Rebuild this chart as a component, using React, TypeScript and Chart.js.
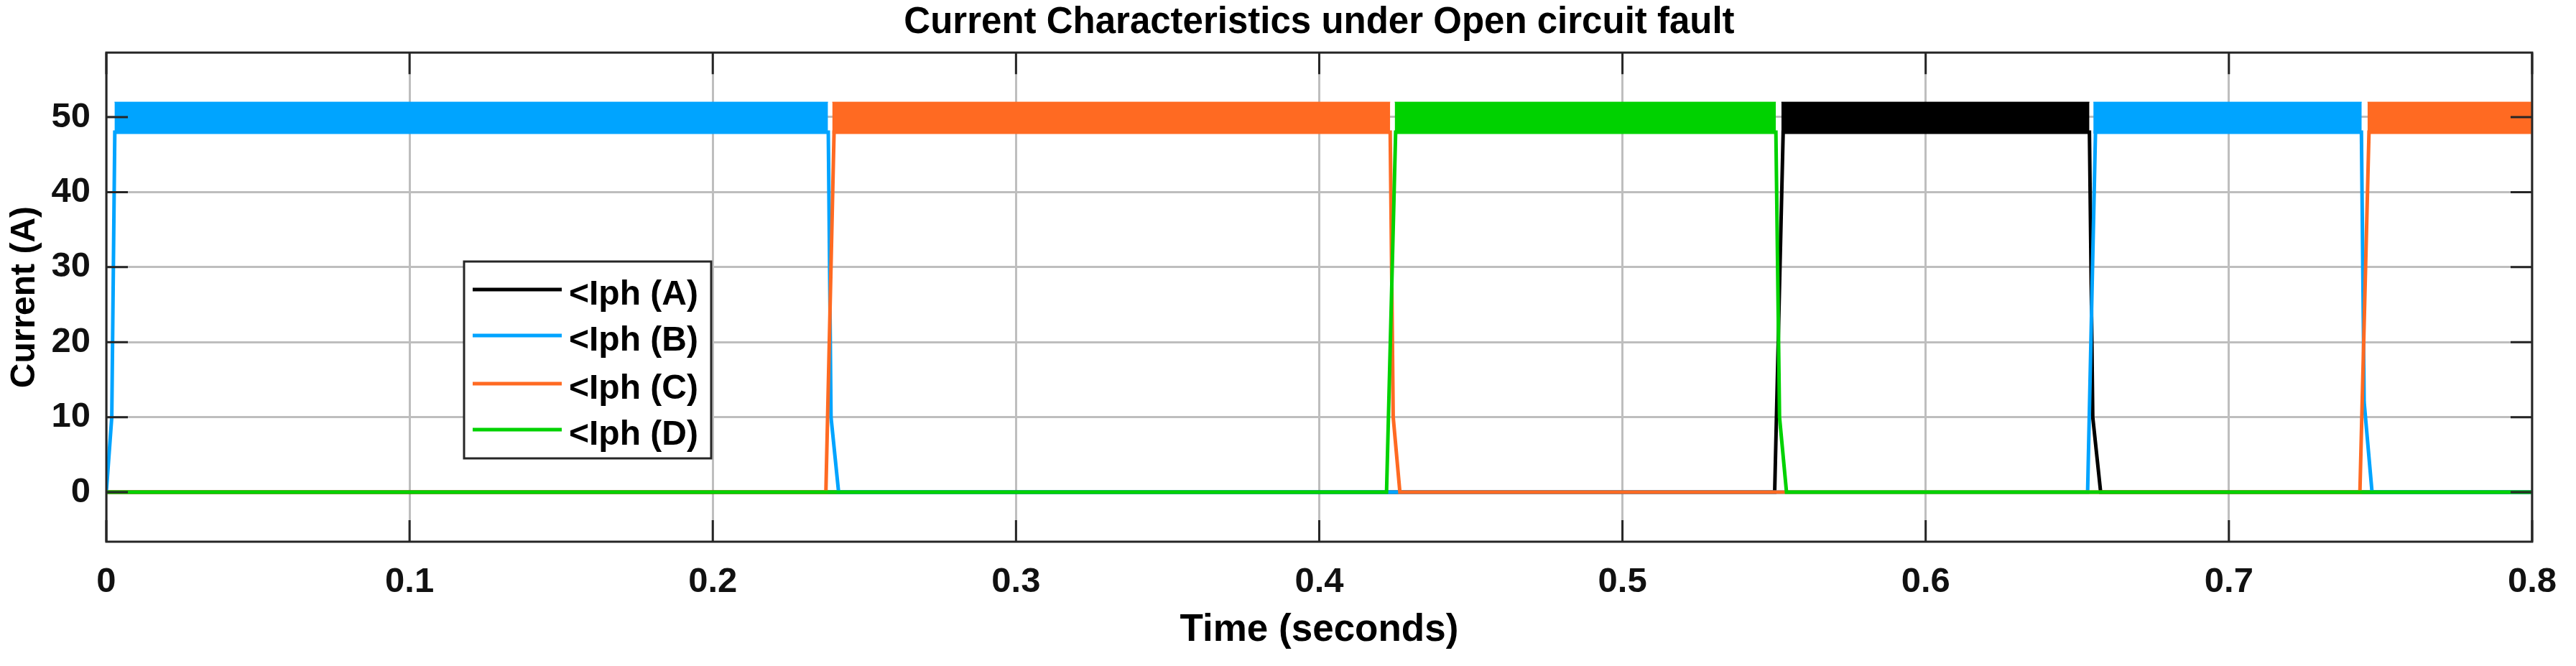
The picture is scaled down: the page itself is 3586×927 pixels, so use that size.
import React, { useEffect, useRef } from "react";
import { Chart, registerables } from "chart.js";

Chart.register(...registerables);

// ---------- data ----------
const TITLE = "Current Characteristics under Open circuit fault";
const X_TITLE = "Time (seconds)";
const Y_TITLE = "Current (A)";

const SERIES_LABELS = ["<Iph (A)", "<Iph (B)", "<Iph (C)", "<Iph (D)"];
const SERIES_COLORS = ["#000000", "#00A4FF", "#FF6A22", "#00D200"];

const X_TICKS = [0, 0.1, 0.2, 0.3, 0.4, 0.5, 0.6, 0.7, 0.8];
const X_TICK_LABELS = ["0", "0.1", "0.2", "0.3", "0.4", "0.5", "0.6", "0.7", "0.8"];
const Y_TICKS = [0, 10, 20, 30, 40, 50];
const Y_TICK_LABELS = ["0", "10", "20", "30", "40", "50"];
const X_MIN = 0;
const X_MAX = 0.8;
const Y_MIN = -6.6;
const Y_MAX = 58.6;

// phase current traces (time s, current A)
const TIME_A = [0, 0.5502, 0.553, 0.654, 0.6551, 0.6577, 0.8];
const CURRENT_A = [0, 0, 48, 48, 10, 0, 0];
const TIME_B = [0, 0.0018, 0.0028, 0.2381, 0.239, 0.2415, 0.6534, 0.656, 0.7437, 0.7446, 0.7472, 0.8];
const CURRENT_B = [0, 10, 48, 48, 10, 0, 0, 48, 48, 12, 0, 0];
const TIME_C = [0, 0.2373, 0.24, 0.4234, 0.4244, 0.4266, 0.7432, 0.7462, 0.8];
const CURRENT_C = [0, 0, 48, 48, 10, 0, 0, 48, 48];
const TIME_D = [0, 0.4222, 0.4252, 0.5506, 0.5518, 0.5541, 0.8];
const CURRENT_D = [0, 0, 48, 48, 10, 0, 0];

// switching ripple band while a phase conducts
const RIPPLE_MIN = 47.8;
const RIPPLE_MAX = 52.0;
const BAND_A = [[0.5524, 0.654]];
const BAND_B = [[0.0027, 0.238], [0.6553, 0.7438]];
const BAND_C = [[0.2394, 0.4234], [0.7457, 0.8]];
const BAND_D = [[0.4249, 0.5506]];

// ---------- styling ----------
const FONT = "'Liberation Sans', Arial, Helvetica, sans-serif";
const AXIS_COLOR = "#262626";
const GRID_COLOR = "#BEBEBE";
const TICK_LEN = 30;

const W = 3586;
const H = 927;

function toPoints(t: number[], v: number[]) {
  return t.map((x, i) => ({ x, y: v[i] }));
}

const framePlugin = {
  id: "matlabFrame",
  afterDatasetsDraw(chart: any) {
    const { ctx, chartArea, scales } = chart;
    const { left, right, top, bottom } = chartArea;
    const x = scales.x;
    const y = scales.y;
    ctx.save();
    ctx.strokeStyle = AXIS_COLOR;
    ctx.lineWidth = 3;
    ctx.beginPath();
    for (const v of X_TICKS) {
      const px = x.getPixelForValue(v);
      ctx.moveTo(px, bottom);
      ctx.lineTo(px, bottom - TICK_LEN);
      ctx.moveTo(px, top);
      ctx.lineTo(px, top + TICK_LEN);
    }
    for (const v of Y_TICKS) {
      const py = y.getPixelForValue(v);
      ctx.moveTo(left, py);
      ctx.lineTo(left + TICK_LEN, py);
      ctx.moveTo(right, py);
      ctx.lineTo(right - TICK_LEN, py);
    }
    ctx.stroke();
    ctx.strokeRect(left, top, right - left, bottom - top);
    ctx.restore();
  },
};

const legendPlugin = {
  id: "matlabLegend",
  afterDraw(chart: any) {
    const { ctx } = chart;
    const bx = 646;
    const by = 364;
    const bw = 344;
    const bh = 274;
    const rows = [403, 467, 534, 598];
    ctx.save();
    ctx.fillStyle = "#ffffff";
    ctx.fillRect(bx, by, bw, bh);
    ctx.strokeStyle = AXIS_COLOR;
    ctx.lineWidth = 3;
    ctx.strokeRect(bx, by, bw, bh);
    ctx.font = `bold 48px ${FONT}`;
    ctx.textBaseline = "middle";
    ctx.textAlign = "left";
    SERIES_LABELS.forEach((label, i) => {
      const ry = rows[i];
      ctx.strokeStyle = SERIES_COLORS[i];
      ctx.lineWidth = 5;
      ctx.beginPath();
      ctx.moveTo(658, ry);
      ctx.lineTo(782, ry);
      ctx.stroke();
      ctx.fillStyle = "#000000";
      ctx.fillText(label, 792, ry + 8);
    });
    ctx.restore();
  },
};

export default function App() {
  const canvasRef = useRef<HTMLCanvasElement | null>(null);

  useEffect(() => {
    document.body.style.margin = "0";
    const canvas = canvasRef.current;
    if (!canvas) return;

    const traces = [
      { t: TIME_A, v: CURRENT_A, bands: BAND_A },
      { t: TIME_B, v: CURRENT_B, bands: BAND_B },
      { t: TIME_C, v: CURRENT_C, bands: BAND_C },
      { t: TIME_D, v: CURRENT_D, bands: BAND_D },
    ];

    const datasets: any[] = [];
    traces.forEach((tr, i) => {
      const color = SERIES_COLORS[i];
      const baseOrder = (4 - i) * 2; // A lowest on screen, D on top
      datasets.push({
        label: SERIES_LABELS[i],
        data: toPoints(tr.t, tr.v),
        borderColor: color,
        backgroundColor: color,
        borderWidth: 5,
        pointRadius: 0,
        tension: 0,
        fill: false,
        order: baseOrder - 1,
      });
      tr.bands.forEach(([s, e]) => {
        datasets.push({
          label: SERIES_LABELS[i] + " ripple",
          data: [
            { x: s, y: RIPPLE_MAX },
            { x: e, y: RIPPLE_MAX },
          ],
          borderColor: color,
          backgroundColor: color,
          borderWidth: 1,
          pointRadius: 0,
          tension: 0,
          fill: { value: RIPPLE_MIN },
          order: baseOrder,
        });
      });
    });

    const chart = new Chart(canvas, {
      type: "line",
      data: { datasets },
      options: {
        responsive: false,
        devicePixelRatio: 1,
        animation: false,
        layout: { padding: { left: 0, right: 43, top: 0, bottom: 0 } },
        plugins: {
          legend: { display: false },
          tooltip: { enabled: false },
          title: {
            display: true,
            text: TITLE,
            fullSize: false,
            color: "#000000",
            font: { family: FONT, size: 51, weight: "bold", lineHeight: 1.2 },
            padding: { top: 1, bottom: 11 },
          },
        },
        scales: {
          x: {
            type: "linear",
            min: X_MIN,
            max: X_MAX,
            afterBuildTicks: (scale: any) => {
              scale.ticks = X_TICKS.map((value) => ({ value }));
            },
            afterFit: (scale: any) => {
              scale.height = 173;
            },
            ticks: {
              autoSkip: false,
              maxRotation: 0,
              padding: 27,
              color: "#111111",
              font: { family: FONT, size: 49, weight: "bold" },
              callback: (_v: any, idx: number) => X_TICK_LABELS[idx],
            },
            grid: {
              color: GRID_COLOR,
              lineWidth: 3,
              drawTicks: false,
            },
            border: { display: false },
            title: {
              display: true,
              text: X_TITLE,
              color: "#000000",
              font: { family: FONT, size: 53, weight: "bold", lineHeight: 1.2 },
              padding: { top: 0, bottom: 18 },
            },
          },
          y: {
            type: "linear",
            min: Y_MIN,
            max: Y_MAX,
            afterBuildTicks: (scale: any) => {
              scale.ticks = Y_TICKS.map((value) => ({ value }));
            },
            afterFit: (scale: any) => {
              scale.width = 148;
            },
            ticks: {
              autoSkip: false,
              padding: 22,
              color: "#111111",
              font: { family: FONT, size: 49, weight: "bold" },
              callback: (_v: any, idx: number) => Y_TICK_LABELS[idx],
            },
            grid: {
              color: GRID_COLOR,
              lineWidth: 3,
              drawTicks: false,
            },
            border: { display: false },
            title: {
              display: true,
              text: Y_TITLE,
              color: "#000000",
              font: { family: FONT, size: 48, weight: "bold", lineHeight: 1.2 },
              padding: { top: 6, bottom: 0 },
            },
          },
        },
      },
      plugins: [framePlugin, legendPlugin],
    } as any);

    return () => chart.destroy();
  }, []);

  return (
    <div style={{ width: W, height: H, background: "#ffffff" }}>
      <canvas ref={canvasRef} width={W} height={H} style={{ display: "block" }} />
    </div>
  );
}
